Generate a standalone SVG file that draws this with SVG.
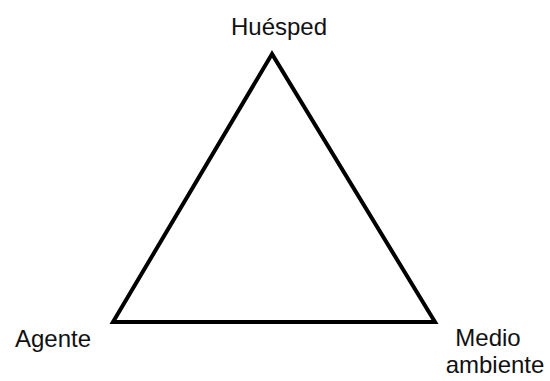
<svg xmlns="http://www.w3.org/2000/svg" width="550" height="381" viewBox="0 0 550 381">
<style>
text{font-family:"Liberation Sans",Arial,sans-serif;font-size:24px;fill:#111;}
.edge{fill:none;stroke:#000;stroke-width:4;stroke-linejoin:miter;}
</style>
<rect width="550" height="381" fill="#fff"/>
<g id="connectors">
<polygon class="edge" points="272,54 113,322 435,322"/>
</g>
<g id="huesped"><text x="279" y="35" text-anchor="middle">Huésped</text></g>
<g id="agente"><text x="53" y="347" text-anchor="middle">Agente</text></g>
<g id="medio"><text x="488" y="346" text-anchor="middle">Medio</text><text x="495" y="373" text-anchor="middle">ambiente</text></g>
</svg>
